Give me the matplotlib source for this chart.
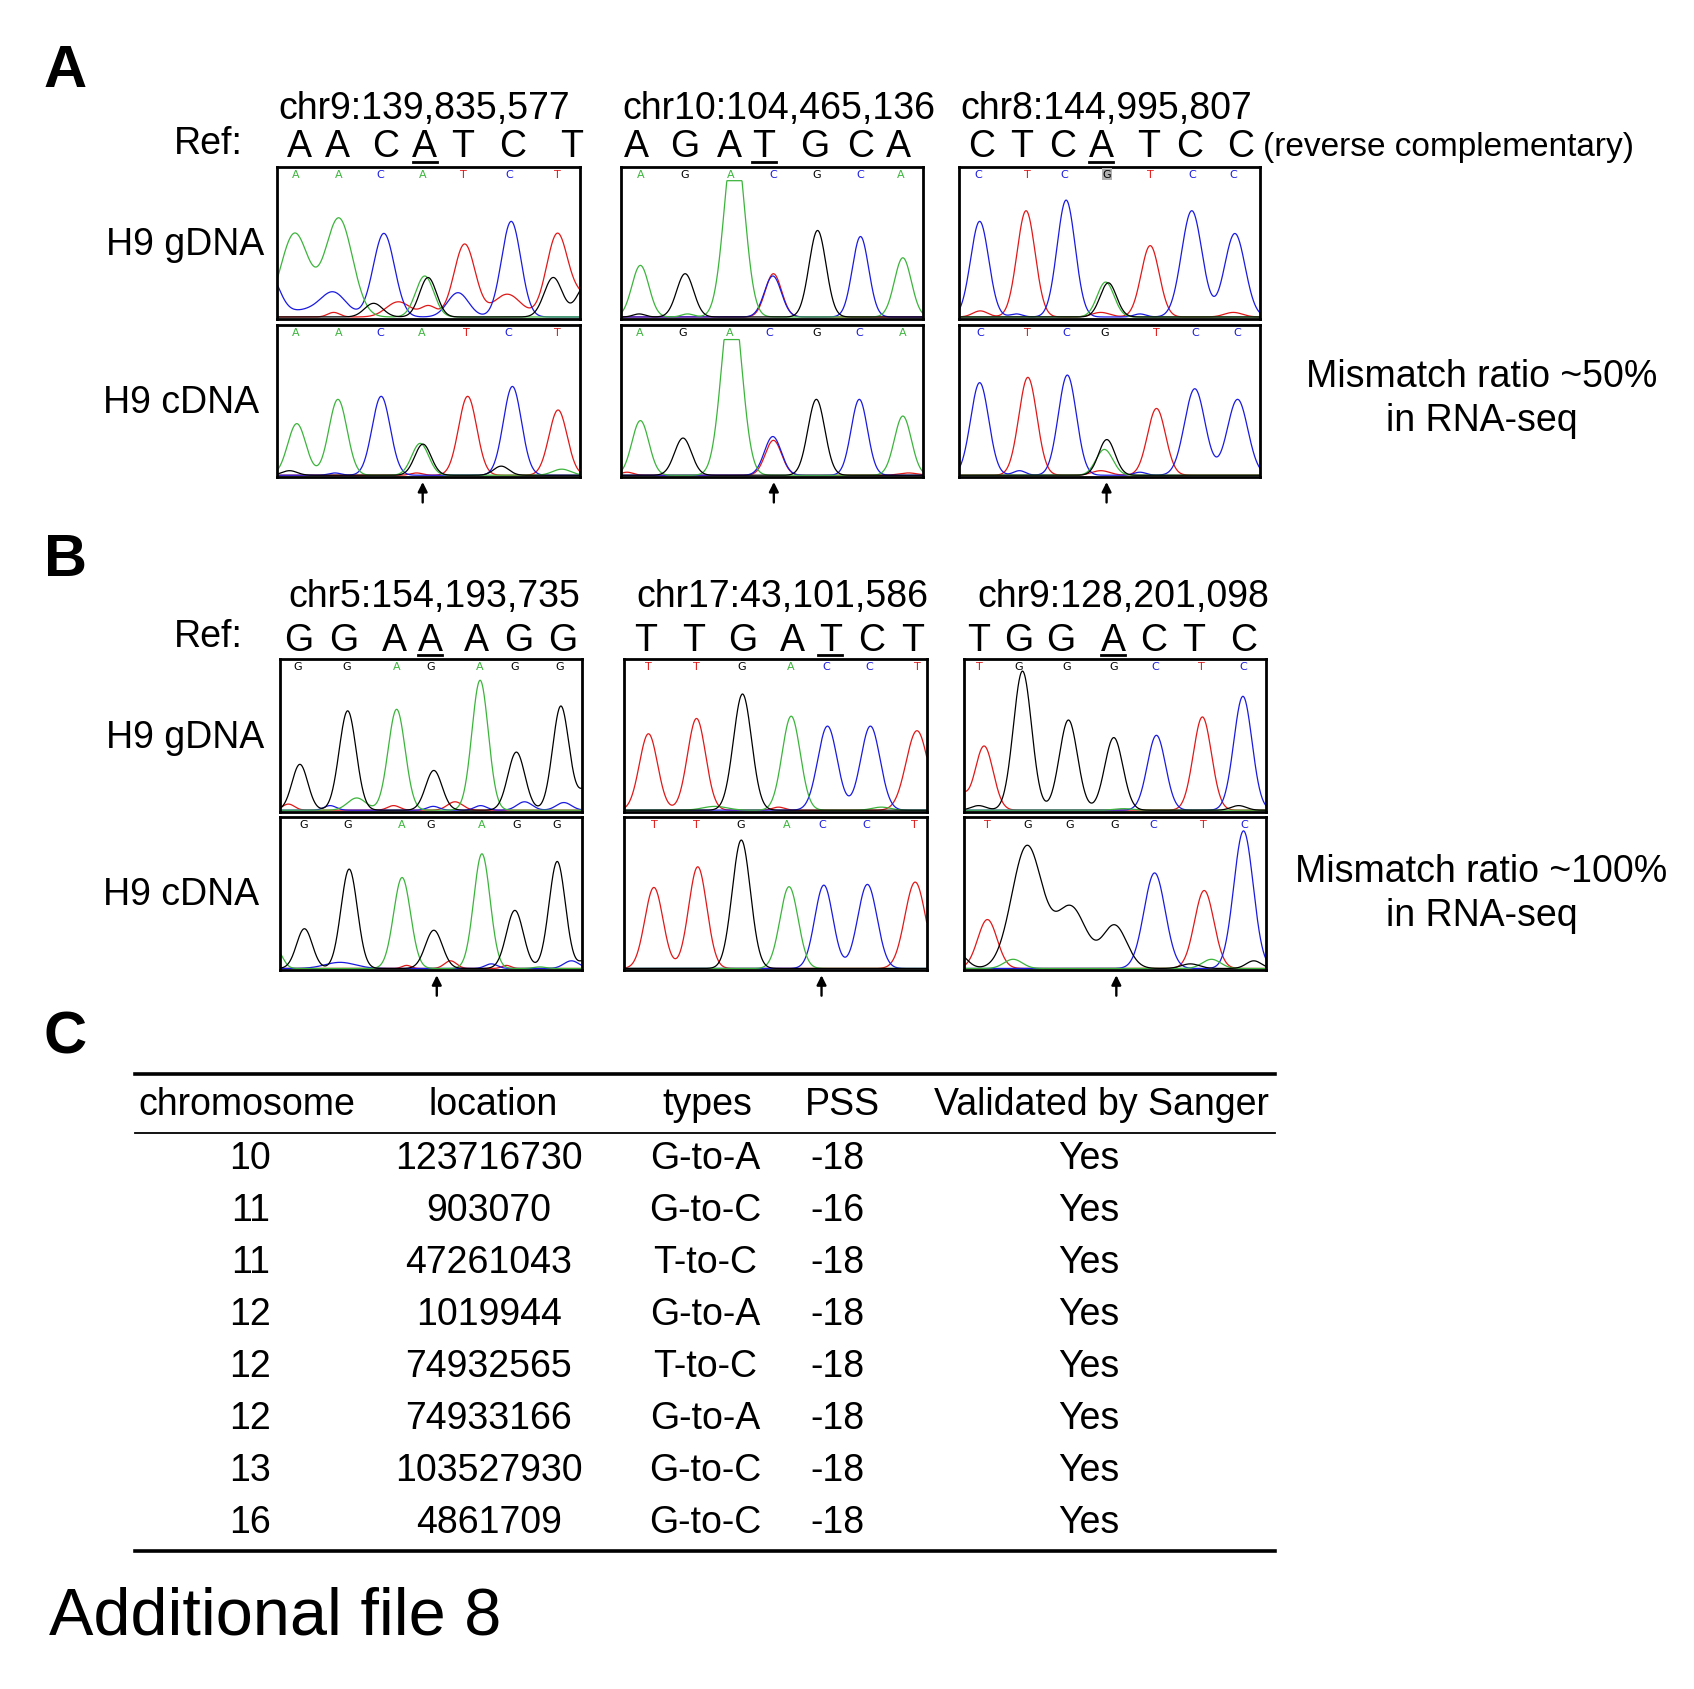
import numpy as np
import matplotlib
matplotlib.use('Agg')
import matplotlib.pyplot as plt
from matplotlib import font_manager
from matplotlib.lines import Line2D

# ---------------- fonts ----------------
_names = {f.name for f in font_manager.fontManager.ttflist}
if 'Liberation Sans Narrow' in _names:
    NARROW, NS, NS_RC = 'Liberation Sans Narrow', 32, 29
else:
    NARROW, NS, NS_RC = 'Liberation Sans', 27, 24
REG = 'Liberation Sans'

# ---------------- data ----------------
A_TITLES = ["chr9:139,835,577", "chr10:104,465,136", "chr8:144,995,807"]
A_REF = ["AACATCT", "AGATGCA", "CTCATCC"]
A_CALLS = ["AACATCT", "AGACGCA", "CTCGTCC"]
B_TITLES = ["chr5:154,193,735", "chr17:43,101,586", "chr9:128,201,098"]
B_REF = ["GGAAAGG", "TTGATCT", "TGGACTC"]
B_CALLS = ["GGAGAGG", "TTGACCT", "TGGGCTC"]
A_RATIO = "Mismatch ratio ~50%"
B_RATIO = "Mismatch ratio ~100%"

# base-call positions (fraction of trace window)
A1G_CALLX = [0.059, 0.201, 0.339, 0.481, 0.614, 0.767, 0.926]
A2G_CALLX = [0.064, 0.212, 0.364, 0.502, 0.648, 0.792, 0.925]
A3G_CALLX = [0.063, 0.226, 0.349, 0.490, 0.634, 0.772, 0.909]
A1C_CALLX = [0.059, 0.201, 0.339, 0.477, 0.625, 0.763, 0.926]
A2C_CALLX = [0.061, 0.205, 0.360, 0.490, 0.646, 0.788, 0.930]
A3C_CALLX = [0.070, 0.228, 0.355, 0.482, 0.655, 0.782, 0.924]
B1G_CALLX = [0.061, 0.221, 0.387, 0.499, 0.663, 0.779, 0.926]
B2G_CALLX = [0.080, 0.239, 0.387, 0.552, 0.668, 0.810, 0.968]
B3G_CALLX = [0.053, 0.184, 0.342, 0.497, 0.634, 0.786, 0.924]
B1C_CALLX = [0.078, 0.226, 0.405, 0.500, 0.669, 0.785, 0.916]
B2C_CALLX = [0.098, 0.240, 0.385, 0.538, 0.655, 0.800, 0.960]
B3C_CALLX = [0.079, 0.213, 0.351, 0.500, 0.628, 0.792, 0.930]

# chromatogram peaks per channel: (centre, height, width)
A1G = {'A': [(0.057, 0.55, 0.046), (0.203, 0.65, 0.045), (0.487, 0.27, 0.030)],
       'C': [(-0.03, 0.28, 0.035), (0.12, 0.05, 0.080), (0.186, 0.13, 0.040),
             (0.352, 0.55, 0.035), (0.597, 0.16, 0.035), (0.773, 0.63, 0.032)],
       'G': [(0.318, 0.09, 0.030), (0.498, 0.26, 0.028), (0.912, 0.26, 0.030), (1.02, 0.21, 0.030)],
       'T': [(0.186, 0.03, 0.020), (0.40, 0.10, 0.040), (0.50, 0.07, 0.025), (0.619, 0.48, 0.035),
             (0.76, 0.15, 0.045), (0.926, 0.55, 0.036), (1.01, 0.12, 0.030)]}
A2G = {'A': [(0.064, 0.34, 0.028), (0.375, 1.20, 0.033), (0.932, 0.39, 0.028), (0.22, 0.02, 0.02)],
       'G': [(0.212, 0.285, 0.028), (0.650, 0.57, 0.028), (0.06, 0.02, 0.02)],
       'C': [(0.502, 0.27, 0.028), (0.792, 0.53, 0.027)],
       'T': [(0.504, 0.285, 0.027)]}
A3G = {'C': [(0.068, 0.63, 0.030), (0.355, 0.77, 0.030), (0.772, 0.70, 0.034), (0.915, 0.55, 0.034),
             (0.19, 0.02, 0.02), (0.60, 0.02, 0.02)],
       'T': [(0.222, 0.70, 0.030), (0.634, 0.47, 0.030), (0.07, 0.04, 0.025), (0.47, 0.03, 0.03),
             (0.91, 0.03, 0.03)],
       'A': [(0.486, 0.23, 0.028)],
       'G': [(0.495, 0.225, 0.027)]}
A1C = {'A': [(0.064, 0.34, 0.030), (0.200, 0.50, 0.030), (0.472, 0.21, 0.028), (0.94, 0.04, 0.03)],
       'C': [(0.343, 0.52, 0.030), (0.777, 0.585, 0.030), (0.19, 0.015, 0.02)],
       'G': [(0.481, 0.205, 0.027), (0.04, 0.03, 0.025), (0.74, 0.06, 0.025)],
       'T': [(0.629, 0.52, 0.030), (0.928, 0.43, 0.030), (0.46, 0.015, 0.02)]}
A2C = {'A': [(0.064, 0.36, 0.028), (0.366, 1.20, 0.033), (0.932, 0.39, 0.028)],
       'G': [(0.205, 0.245, 0.028), (0.646, 0.50, 0.028)],
       'C': [(0.502, 0.255, 0.028), (0.788, 0.50, 0.027)],
       'T': [(0.504, 0.23, 0.027), (0.95, 0.015, 0.03), (0.02, 0.02, 0.02)]}
A3C = {'C': [(0.068, 0.61, 0.030), (0.359, 0.66, 0.030), (0.782, 0.57, 0.034), (0.924, 0.50, 0.034),
             (0.20, 0.03, 0.02), (0.60, 0.02, 0.02)],
       'T': [(0.228, 0.645, 0.030), (0.655, 0.44, 0.030), (0.47, 0.03, 0.03)],
       'G': [(0.490, 0.235, 0.027)],
       'A': [(0.482, 0.17, 0.028)]}
B1G = {'G': [(0.067, 0.30, 0.026), (0.225, 0.65, 0.028), (0.510, 0.26, 0.027), (0.783, 0.38, 0.028),
             (0.930, 0.68, 0.027), (1.02, 0.15, 0.030)],
       'A': [(0.255, 0.08, 0.030), (0.387, 0.66, 0.028), (0.663, 0.85, 0.027)],
       'T': [(0.029, 0.04, 0.020), (0.377, 0.03, 0.020), (0.580, 0.055, 0.025)],
       'C': [(0.167, 0.03, 0.020), (0.508, 0.025, 0.02), (0.665, 0.03, 0.02), (0.810, 0.055, 0.025),
             (0.940, 0.05, 0.025)]}
B2G = {'T': [(0.080, 0.50, 0.030), (0.239, 0.60, 0.030), (0.968, 0.52, 0.036), (0.51, 0.02, 0.02)],
       'G': [(0.391, 0.76, 0.030)],
       'A': [(0.552, 0.615, 0.030), (0.30, 0.025, 0.04), (0.85, 0.02, 0.03)],
       'C': [(0.672, 0.55, 0.032), (0.814, 0.55, 0.032)]}
B3G = {'T': [(0.068, 0.42, 0.030), (0.790, 0.61, 0.030), (-0.01, 0.10, 0.020)],
       'G': [(0.195, 0.91, 0.030), (0.347, 0.59, 0.030), (0.497, 0.475, 0.030),
             (0.05, 0.03, 0.025), (0.91, 0.03, 0.025)],
       'C': [(0.638, 0.49, 0.030), (0.924, 0.745, 0.030)],
       'A': [(0.53, 0.01, 0.03)]}
B1C = {'G': [(0.082, 0.26, 0.026), (0.230, 0.65, 0.027), (0.510, 0.25, 0.028), (0.778, 0.38, 0.028),
             (0.918, 0.70, 0.027), (1.01, 0.05, 0.02)],
       'A': [(0.405, 0.595, 0.028), (0.669, 0.75, 0.027), (-0.01, 0.12, 0.02), (0.86, 0.01, 0.02)],
       'C': [(0.20, 0.04, 0.050), (0.70, 0.03, 0.02), (0.965, 0.05, 0.025)],
       'T': [(0.42, 0.02, 0.015), (0.565, 0.05, 0.02), (0.75, 0.02, 0.015)]}
B2C = {'T': [(0.098, 0.53, 0.030), (0.243, 0.665, 0.030), (0.962, 0.565, 0.034)],
       'G': [(0.387, 0.84, 0.030)],
       'A': [(0.545, 0.535, 0.030)],
       'C': [(0.660, 0.545, 0.030), (0.804, 0.55, 0.032)]}
B3C = {'T': [(0.079, 0.32, 0.032), (0.796, 0.51, 0.032)],
       'G': [(-0.02, 0.10, 0.030), (0.210, 0.80, 0.050), (0.355, 0.40, 0.050), (0.500, 0.28, 0.040),
             (0.75, 0.03, 0.03), (0.96, 0.05, 0.025)],
       'A': [(0.164, 0.06, 0.030), (0.82, 0.06, 0.030)],
       'C': [(0.632, 0.625, 0.035), (0.926, 0.90, 0.032)]}

# table (panel C)
TABLE_HEADER = ["chromosome", "location", "types", "PSS", "Validated by Sanger"]
CHROM = [10, 11, 11, 12, 12, 12, 13, 16]
LOCATION = [123716730, 903070, 47261043, 1019944, 74932565, 74933166, 103527930, 4861709]
TYPES = ["G-to-A", "G-to-C", "T-to-C", "G-to-A", "T-to-C", "G-to-A", "G-to-C", "G-to-C"]
PSS = [-18, -16, -18, -18, -18, -18, -18, -18]
VALIDATED = ["Yes"] * 8

# ---------------- styling ----------------
COL = {'A': '#3cb43c', 'C': '#1a1ae0', 'G': '#000000', 'T': '#e01818'}
W, H = 1563.0, 1559.0


def px(x):
    return x / W


def py(y):
    return 1.0 - y / H


fig = plt.figure(figsize=(16.94, 16.90), dpi=100)
fig.patch.set_facecolor('white')


def ftext(x, y, s, size=NS, family=None, ha='left', va='center', weight='normal', **kw):
    fig.text(px(x), py(y), s, fontsize=size, family=family or NARROW, ha=ha, va=va,
             weight=weight, **kw)


def trace_box(l, r, t, b, peaks, calls, callx, clip=None, highlight=None):
    ax = fig.add_axes([px(l), py(b), (r - l) / W, (b - t) / H])
    ax.set_xlim(0, 1)
    ax.set_ylim(0, 1)
    ax.set_xticks([])
    ax.set_yticks([])
    for s in ax.spines.values():
        s.set_linewidth(2.0)
    x = np.linspace(0, 1, 900)
    for base in ['T', 'C', 'A', 'G']:
        if base not in peaks:
            continue
        y = np.zeros_like(x)
        for c, h, w in peaks[base]:
            y += h * np.exp(-0.5 * ((x - c) / w) ** 2)
        y = y + 0.012
        if clip is not None:
            y = np.minimum(y, clip)
        ax.plot(x, y, color=COL[base], lw=0.9, solid_joinstyle='round', clip_on=True)
    for i, (letter, cx) in enumerate(zip(calls, callx)):
        kw = {}
        if highlight == i:
            kw['bbox'] = dict(boxstyle='square,pad=0.08', fc='#b0b0b0', ec='none')
        ax.text(cx, 0.955, letter, color=COL[letter], fontsize=8, ha='center', va='center',
                family='DejaVu Sans', **kw)
    return ax


def ref_row(y, letters, xs, under):
    for i, (ch, x) in enumerate(zip(letters, xs)):
        ftext(x, y, ch, ha='center')
        if i == under:
            fig.add_artist(Line2D([px(x - 11), px(x + 11)], [py(y + 14), py(y + 14)],
                                  color='k', lw=2.0, transform=fig.transFigure))


def arrow(x, y0, y1):
    fig.add_artist(matplotlib.patches.FancyArrowPatch(
        (px(x), py(y0)), (px(x), py(y1)), transform=fig.transFigure,
        arrowstyle='-|>', mutation_scale=14, lw=1.7, color='k'))


# ---------------- panel A ----------------
ftext(60, 66, "A", size=43, family=REG, ha='center', weight='bold')
for x, s in zip([257, 574, 886], A_TITLES):
    ftext(x, 101, s)
ftext(160, 133, "Ref:")
A_REFX = [[276, 311, 356, 392, 427, 473, 527],
          [587, 632, 673, 705, 752, 794, 829],
          [906, 943, 980, 1016, 1060, 1098, 1145]]
A_UNDER = [3, 3, 3]
for letters, xs, u in zip(A_REF, A_REFX, A_UNDER):
    ref_row(136, letters, xs, u)
ftext(1165, 136, "(reverse complementary)", size=NS_RC)
ftext(171, 226, "H9 gDNA", ha='center')
ftext(167, 372, "H9 cDNA", ha='center')

A_X = [(256, 535), (573, 852), (885, 1163)]
A_G_DATA = [(A1G, A1G_CALLX, None, None), (A2G, A2G_CALLX, 0.91, None), (A3G, A3G_CALLX, None, 3)]
A_C_DATA = [(A1C, A1C_CALLX, None, None), (A2C, A2C_CALLX, 0.906, None), (A3C, A3C_CALLX, None, None)]
for (l, r), calls, (pk, cx, cl, hl) in zip(A_X, A_CALLS, A_G_DATA):
    trace_box(l, r, 155, 295, pk, calls, cx, cl, hl)
for (l, r), calls, (pk, cx, cl, hl) in zip(A_X, A_CALLS, A_C_DATA):
    trace_box(l, r, 301, 441, pk, calls, cx, cl, hl)
for x in [390, 714, 1021]:
    arrow(x, 467, 443)
ftext(1367, 348, A_RATIO, ha='center')
ftext(1367, 388, "in RNA-seq", ha='center')

# ---------------- panel B ----------------
ftext(60, 517, "B", size=43, family=REG, ha='center', weight='bold')
for x, s in zip([266, 587, 902], B_TITLES):
    ftext(x, 551, s)
ftext(160, 588, "Ref:")
B_REFX = [[276, 317, 364, 397, 440, 479, 519],
          [596, 640, 685, 731, 766, 804, 842],
          [903, 940, 979, 1027, 1064, 1101, 1147]]
B_UNDER = [3, 4, 3]
for letters, xs, u in zip(B_REF, B_REFX, B_UNDER):
    ref_row(591, letters, xs, u)
ftext(171, 681, "H9 gDNA", ha='center')
ftext(167, 826, "H9 cDNA", ha='center')

B_X = [(258, 537), (576, 855), (889, 1168)]
B_G_DATA = [(B1G, B1G_CALLX), (B2G, B2G_CALLX), (B3G, B3G_CALLX)]
B_C_DATA = [(B1C, B1C_CALLX), (B2C, B2C_CALLX), (B3C, B3C_CALLX)]
for (l, r), calls, (pk, cx) in zip(B_X, B_CALLS, B_G_DATA):
    trace_box(l, r, 609, 750, pk, calls, cx)
for (l, r), calls, (pk, cx) in zip(B_X, B_CALLS, B_C_DATA):
    trace_box(l, r, 755, 896, pk, calls, cx)
for x in [403, 758, 1030]:
    arrow(x, 922, 898)
ftext(1367, 804, B_RATIO, ha='center')
ftext(1367, 845, "in RNA-seq", ha='center')

# ---------------- panel C (table) ----------------
ftext(60, 958, "C", size=43, family=REG, ha='center', weight='bold')
TL, TR = 125, 1176
fig.add_artist(Line2D([px(TL), px(TR)], [py(992), py(992)], color='k', lw=2.6, transform=fig.transFigure))
fig.add_artist(Line2D([px(TL), px(TR)], [py(1046), py(1046)], color='k', lw=1.3, transform=fig.transFigure))
fig.add_artist(Line2D([px(TL), px(TR)], [py(1432), py(1432)], color='k', lw=2.6, transform=fig.transFigure))
HEAD_X = [228, 455, 653, 777, 1016]
for x, s in zip(HEAD_X, TABLE_HEADER):
    ftext(x, 1019, s, ha='center')
ROW_X = [231, 451, 651, 773, 1005]
ROW_Y = [1069, 1117, 1165, 1213, 1261, 1309, 1357, 1405]
for i, y in enumerate(ROW_Y):
    vals = [str(CHROM[i]), str(LOCATION[i]), TYPES[i], str(PSS[i]), VALIDATED[i]]
    for x, s in zip(ROW_X, vals):
        ftext(x, y, s, ha='center')

ftext(45, 1492, "Additional file 8", size=48, family=REG)

fig.savefig('out.png', dpi=100, facecolor='white')
